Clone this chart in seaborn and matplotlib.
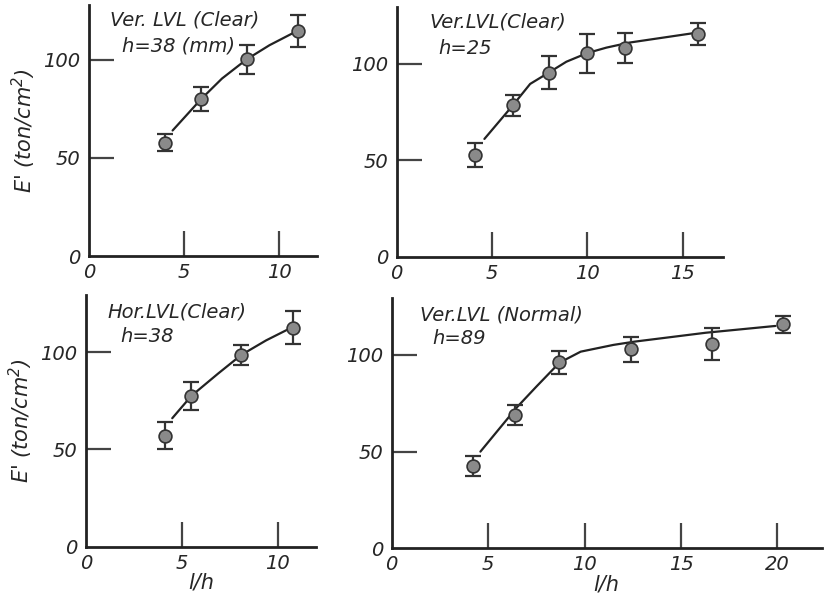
import numpy as np
import pandas as pd
import seaborn as sns
import matplotlib.pyplot as plt

# values (l/h, E' in ton/cm2, +/- error)
tl_x = [4.0, 5.9, 8.3, 11.0]
tl_y = [57.8, 80.0, 100.3, 114.8]
tl_err = [4.5, 6.2, 7.5, 8.0]
tl_curve_x = [4.4, 5.9, 7.0, 8.3, 9.5, 10.8]
tl_curve_y = [64.0, 80.0, 90.5, 100.3, 107.5, 114.0]

tr_x = [4.1, 6.1, 8.0, 10.0, 12.0, 15.8]
tr_y = [52.7, 78.4, 95.3, 105.4, 108.3, 115.5]
tr_err = [6.2, 5.4, 8.5, 10.0, 7.8, 5.7]
tr_curve_x = [4.6, 6.1, 7.0, 8.0, 8.9, 10.0, 11.0, 12.2, 15.5]
tr_curve_y = [61.0, 78.5, 89.5, 95.5, 101.0, 105.5, 108.3, 110.9, 115.7]

bl_x = [4.1, 5.5, 8.1, 10.8]
bl_y = [57.0, 77.4, 98.5, 112.5]
bl_err = [7.0, 7.0, 5.0, 8.6]
bl_curve_x = [4.5, 5.5, 6.9, 8.1, 9.4, 10.55]
bl_curve_y = [66.0, 77.5, 89.0, 98.5, 106.0, 111.7]

br_x = [4.2, 6.4, 8.7, 12.4, 16.6, 20.3]
br_y = [42.7, 69.0, 96.2, 102.9, 105.7, 115.9]
br_err = [5.2, 5.2, 6.0, 6.4, 8.2, 4.3]
br_curve_x = [4.6, 6.5, 7.5, 8.7, 9.8, 11.5, 12.6, 16.3, 19.9]
br_curve_y = [50.0, 73.0, 83.6, 96.0, 101.7, 105.2, 106.9, 111.5, 115.0]

titles = ['Ver. LVL (Clear)', 'Ver.LVL(Clear)', 'Hor.LVL(Clear)', 'Ver.LVL (Normal)']
subtitles = ['h=38 (mm)', 'h=25', 'h=38', 'h=89']

sns.set_style('ticks')
plt.rcParams['font.family'] = ['DejaVu Sans']
plt.rcParams['font.style'] = 'italic'

W, H = 831, 595
fig = plt.figure(figsize=(W / 100, H / 100), dpi=100)

# panel boxes in pixels: left, y of zero line, width, height
boxes = [(89, 256, 228, 251), (396.7, 256.7, 326, 250),
         (86, 546.7, 230, 251.7), (391.7, 548.3, 430, 250)]
xlims = [12, 17.1, 12, 22.3]
ylims = [128, 129.5, 129.3, 129.3]
xticks = [[0, 5, 10], [0, 5, 10, 15], [0, 5, 10], [0, 5, 10, 15, 20]]
data = [(tl_x, tl_y, tl_err, tl_curve_x, tl_curve_y),
        (tr_x, tr_y, tr_err, tr_curve_x, tr_curve_y),
        (bl_x, bl_y, bl_err, bl_curve_x, bl_curve_y),
        (br_x, br_y, br_err, br_curve_x, br_curve_y)]
title_pos = [((110, 20), (122, 46)), ((429, 22), (438, 48)),
             ((107, 312), (120, 336)), ((420, 315), (432, 338))]

for i, (box, d) in enumerate(zip(boxes, data)):
    left, y0, w, h = box
    ax = fig.add_axes([left / W, 1 - y0 / H, w / W, h / H])
    px, py, perr, cx, cy = d
    pts = pd.DataFrame({'lh': px, 'E': py})
    crv = pd.DataFrame({'lh': cx, 'E': cy})
    sns.lineplot(data=crv, x='lh', y='E', ax=ax, color='#222222', lw=1.6,
                 sort=False, estimator=None)
    ax.errorbar(px, py, yerr=perr, fmt='none', ecolor='#333333',
                elinewidth=1.6, capsize=5.5, capthick=1.6, zorder=3)
    sns.scatterplot(data=pts, x='lh', y='E', ax=ax, s=85, color='#8a8a8a',
                    edgecolor='#333333', linewidth=1.2, zorder=4)
    ax.set_xlim(0, xlims[i])
    ax.set_ylim(0, ylims[i])
    sns.despine(ax=ax)
    for sp in ['left', 'bottom']:
        ax.spines[sp].set_linewidth(2)
        ax.spines[sp].set_color('#222222')
    ax.set_yticks([0, 50, 100])
    ax.set_xticks(xticks[i])
    ax.tick_params(axis='both', direction='in', length=18, width=1.6,
                   color='#444444', labelsize=14)
    ax.tick_params(axis='y', pad=6)
    ax.tick_params(axis='x', pad=5)
    ax.yaxis.get_major_ticks()[0].tick1line.set_visible(False)
    ax.xaxis.get_major_ticks()[0].tick1line.set_visible(False)
    ax.set_xlabel('l/h' if i >= 2 else '', fontsize=15, labelpad=0)
    ax.set_ylabel("E' (ton/cm$^2$)" if i % 2 == 0 else '', fontsize=15,
                  labelpad=4)
    (t1x, t1y), (t2x, t2y) = title_pos[i]
    fig.text(t1x / W, 1 - t1y / H, titles[i], fontsize=14, va='center',
             ha='left')
    fig.text(t2x / W, 1 - t2y / H, subtitles[i], fontsize=14, va='center',
             ha='left')

fig.savefig('out.png', dpi=100)
